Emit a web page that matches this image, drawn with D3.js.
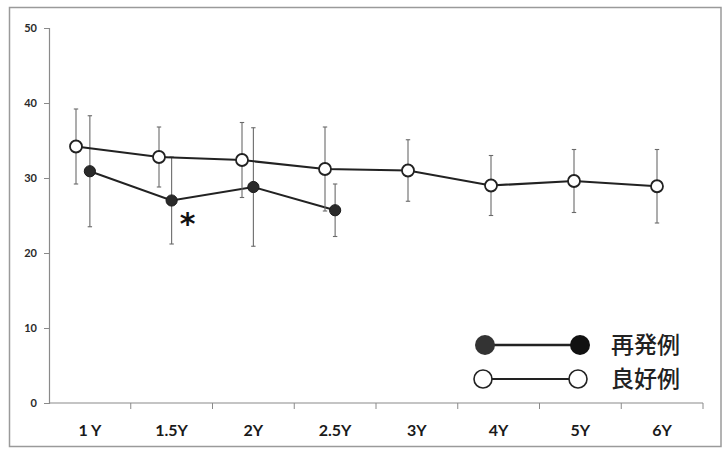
<!DOCTYPE html>
<html>
<head>
<meta charset="utf-8">
<script src="https://cdn.jsdelivr.net/npm/d3@7/dist/d3.min.js"></script>
<style>
  html, body { margin: 0; padding: 0; background: #fff; }
  svg { display: block; }
</style>
</head>
<body>
<svg id="chart" width="726" height="449"></svg>
<script>
// Follow-up time points
const categories = ["1 Y", "1.5Y", "2Y", "2.5Y", "3Y", "4Y", "5Y", "6Y"];
// 良好例 (good outcome): mean and SD
const goodMean = [34.2, 32.8, 32.4, 31.2, 31.0, 29.0, 29.6, 28.9];
const goodSD   = [5.0, 4.0, 5.0, 5.6, 4.1, 4.0, 4.2, 4.9];
// 再発例 (relapse): mean and SD, first four time points only
const relapseMean = [30.9, 27.0, 28.8, 25.7];
const relapseSD   = [7.4, 5.8, 7.9, 3.5];
// Axis ticks
const yTicks = [0, 10, 20, 30, 40, 50];
// Significance marker at 1.5Y
const sigCategory = "1.5Y";
const sigLabel = "*";
const legendLabels = ["再発例", "良好例"];

const svg = d3.select("#chart");
const ink = "#222";
const barColor = "#6a6a6a";
const latin = "Lato, 'Open Sans', 'Liberation Sans', sans-serif";
const cjk = "'Noto Sans CJK JP', 'Noto Sans CJK SC', sans-serif";

// Outer frame
svg.append("rect")
  .attr("x", 9.5).attr("y", 7.5)
  .attr("width", 711.5).attr("height", 439)
  .attr("fill", "#fff")
  .attr("stroke", "#9a9a9a").attr("stroke-width", 1.5);

const y = d3.scaleLinear().domain([0, 50]).range([403, 28]);
const x = d3.scaleBand().domain(categories).range([49, 703]);
// relapse markers sit in the middle of each category, good-outcome markers are dodged left
const xRel = c => x(c) + x.bandwidth() / 2;
const xGood = d3.scalePoint().domain(categories).range([76, 657]);

// Y axis
const yAxis = svg.append("g")
  .attr("transform", "translate(49,0)")
  .call(d3.axisLeft(y).tickValues(yTicks).tickSize(5).tickPadding(7).tickFormat(d3.format("d")));
yAxis.select(".domain").attr("stroke", "#8a8a8a").attr("stroke-width", 1.2);
yAxis.selectAll(".tick line").attr("stroke", "#8a8a8a");
yAxis.selectAll(".tick text")
  .attr("fill", "#2a2a2a").attr("font-family", latin)
  .attr("font-weight", 700).attr("font-size", 11);

// X axis: line, ticks on category boundaries, centred labels
const xAxis = svg.append("g").attr("transform", "translate(0,403)");
xAxis.append("line")
  .attr("x1", x.range()[0]).attr("x2", x.range()[1])
  .attr("stroke", "#8a8a8a").attr("stroke-width", 1.2);
const edges = categories.map(c => x(c)).concat([x.range()[1]]).slice(1);
xAxis.selectAll("line.tk").data(edges).join("line")
  .attr("class", "tk")
  .attr("x1", d => d).attr("x2", d => d)
  .attr("y1", 0).attr("y2", 6)
  .attr("stroke", "#8a8a8a");
xAxis.selectAll("text").data(categories).join("text")
  .attr("x", d => xRel(d))
  .attr("y", 27)
  .attr("dy", "0.36em")
  .attr("text-anchor", "middle")
  .attr("fill", "#1a1a1a").attr("font-family", latin)
  .attr("font-weight", 700).attr("font-size", 16)
  .text(d => d);

// Error bars
function errorBars(means, sds, xf) {
  const g = svg.append("g").attr("stroke", barColor).attr("stroke-width", 1.1);
  const rows = means.map((m, i) => ({ c: categories[i], lo: m - sds[i], hi: m + sds[i] }));
  g.selectAll("line.v").data(rows).join("line").attr("class", "v")
    .attr("x1", d => xf(d.c)).attr("x2", d => xf(d.c))
    .attr("y1", d => y(d.lo)).attr("y2", d => y(d.hi));
  g.selectAll("line.t").data(rows).join("line").attr("class", "t")
    .attr("x1", d => xf(d.c) - 2.2).attr("x2", d => xf(d.c) + 2.2)
    .attr("y1", d => y(d.hi)).attr("y2", d => y(d.hi));
  g.selectAll("line.b").data(rows).join("line").attr("class", "b")
    .attr("x1", d => xf(d.c) - 2.2).attr("x2", d => xf(d.c) + 2.2)
    .attr("y1", d => y(d.lo)).attr("y2", d => y(d.lo));
}

const line = xf => d3.line().x((d, i) => xf(categories[i])).y(d => y(d));

// 再発例 series
errorBars(relapseMean, relapseSD, xRel);
svg.append("path").datum(relapseMean)
  .attr("d", line(xRel))
  .attr("fill", "none").attr("stroke", ink).attr("stroke-width", 2);
svg.selectAll("circle.rel").data(relapseMean).join("circle").attr("class", "rel")
  .attr("cx", (d, i) => xRel(categories[i])).attr("cy", d => y(d))
  .attr("r", 5.6).attr("fill", "#2a2a2a").attr("stroke", "#1a1a1a").attr("stroke-width", 1);

// 良好例 series
errorBars(goodMean, goodSD, xGood);
svg.append("path").datum(goodMean)
  .attr("d", line(xGood))
  .attr("fill", "none").attr("stroke", ink).attr("stroke-width", 2.2);
svg.selectAll("circle.good").data(goodMean).join("circle").attr("class", "good")
  .attr("cx", (d, i) => xGood(categories[i])).attr("cy", d => y(d))
  .attr("r", 6).attr("fill", "#fff").attr("stroke", ink).attr("stroke-width", 1.8);

// Significance asterisk below the 1.5Y relapse point
const si = categories.indexOf(sigCategory);
svg.append("text")
  .attr("x", xRel(sigCategory) + 16)
  .attr("y", y(relapseMean[si]) + 33)
  .attr("text-anchor", "middle")
  .attr("fill", "#111")
  .attr("font-family", "'DejaVu Sans', sans-serif")
  .attr("font-weight", 700).attr("font-size", 30)
  .text(sigLabel);

// Legend
const lg = svg.append("g");
const rowsY = [345, 379];
lg.append("line").attr("x1", 485).attr("x2", 580).attr("y1", rowsY[0]).attr("y2", rowsY[0])
  .attr("stroke", ink).attr("stroke-width", 2.4);
lg.append("circle").attr("cx", 485).attr("cy", rowsY[0]).attr("r", 10).attr("fill", "#333");
lg.append("circle").attr("cx", 580).attr("cy", rowsY[0]).attr("r", 10).attr("fill", "#111");
lg.append("line").attr("x1", 483).attr("x2", 578).attr("y1", rowsY[1]).attr("y2", rowsY[1])
  .attr("stroke", ink).attr("stroke-width", 2);
lg.selectAll("circle.o").data([483, 578]).join("circle").attr("class", "o")
  .attr("cx", d => d).attr("cy", rowsY[1]).attr("r", 9)
  .attr("fill", "#fff").attr("stroke", ink).attr("stroke-width", 1.6);
lg.selectAll("text").data(legendLabels).join("text")
  .attr("x", 611).attr("y", (d, i) => rowsY[i])
  .attr("dy", "0.36em")
  .attr("fill", "#222").attr("font-family", cjk)
  .attr("font-weight", 500).attr("font-size", 23)
  .text(d => d);
</script>
</body>
</html>
